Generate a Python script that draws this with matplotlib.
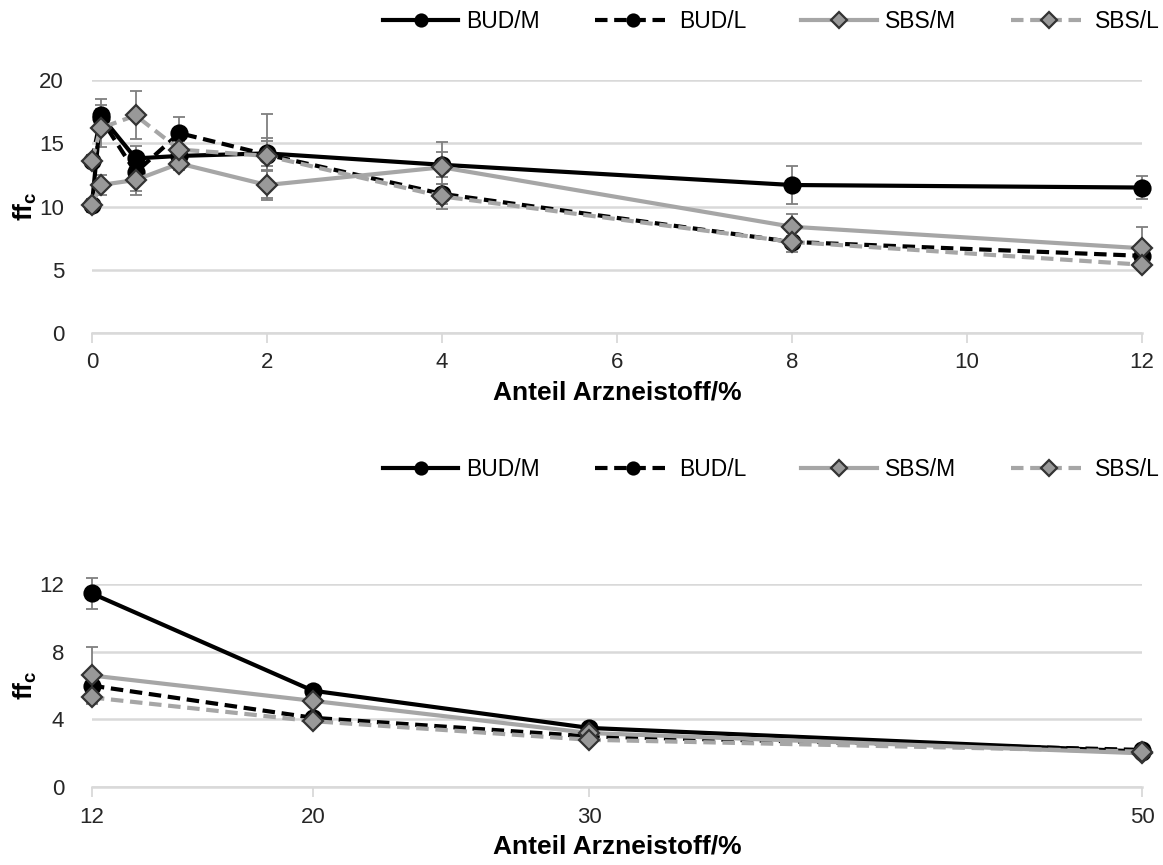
import matplotlib.pyplot as plt
import numpy as np

plt.rcParams['font.family'] = ['Liberation Sans', 'DejaVu Sans']
plt.rcParams['mathtext.fontset'] = 'custom'
plt.rcParams['mathtext.bf'] = 'Liberation Sans:bold'
plt.rcParams['mathtext.rm'] = 'Liberation Sans'

# --- Daten: oberes Diagramm (0-12 %) ---
x_top = [0, 0.1, 0.5, 1, 2, 4, 8, 12]
bud_m_top = [10.1, 17.2, 13.8, 14.0, 14.2, 13.3, 11.7, 11.5]
bud_l_top = [13.6, 17.0, 12.7, 15.8, 14.1, 11.0, 7.2, 6.1]
sbs_m_top = [10.1, 11.7, 12.1, 13.4, 11.7, 13.1, 8.4, 6.7]
sbs_l_top = [13.6, 16.2, 17.2, 14.5, 14.0, 10.8, 7.2, 5.4]
bud_m_top_err = [0.3, 1.3, 1.0, 0.5, 1.0, 1.0, 1.5, 0.9]
bud_l_top_err = [0.5, 1.0, 1.5, 1.3, 1.3, 0.8, 0.5, 0.3]
sbs_m_top_err = [0.5, 0.8, 1.2, 0.5, 1.2, 2.0, 1.0, 1.7]
sbs_l_top_err = [0.5, 1.5, 1.9, 0.7, 3.3, 1.0, 0.8, 0.3]

# --- Daten: unteres Diagramm (12-50 %) ---
x_bot = [12, 20, 30, 50]
bud_m_bot = [11.45, 5.7, 3.5, 2.1]
bud_l_bot = [6.0, 4.1, 3.0, 2.2]
sbs_m_bot = [6.6, 5.1, 3.2, 2.0]
sbs_l_bot = [5.3, 3.9, 2.8, 2.1]
bud_m_bot_err = [0.9, 0.2, 0.2, 0.1]
bud_l_bot_err = [0.3, 0.2, 0.2, 0.1]
sbs_m_bot_err = [1.7, 0.2, 0.2, 0.1]
sbs_l_bot_err = [0.3, 0.2, 0.2, 0.1]

labels = ['BUD/M', 'BUD/L', 'SBS/M', 'SBS/L']
grid_col = '#d9d9d9'
text_col = '#262626'

# Stil je Serie: Farbe, Linienstil, Marker
styles = [
    dict(color='black', ls='-', marker='o', mfc='black', mec='black', ms=11.5),
    dict(color='black', ls=(0, (3, 1.6)), marker='o', mfc='black', mec='black', ms=11.5),
    dict(color='#a6a6a6', ls='-', marker='D', mfc='#999999', mec='#333333', ms=10.5),
    dict(color='#a6a6a6', ls=(0, (3, 1.6)), marker='D', mfc='#999999', mec='#333333', ms=10.5),
]

fig = plt.figure(figsize=(11.63, 8.65), dpi=100)
ax1 = fig.add_axes([0.079, 0.615, 0.903, 0.2925])
ax2 = fig.add_axes([0.079, 0.090, 0.903, 0.2347])


def draw(ax, x, series, errs):
    handles = []
    for y, e, st, lab in zip(series, errs, styles, labels):
        ax.errorbar(x, y, yerr=e, fmt='none', ecolor='#7f7f7f', elinewidth=1.3,
                    capsize=4.5, capthick=1.3, zorder=2, clip_on=False)
        h, = ax.plot(x, y, color=st['color'], ls=st['ls'], lw=3, marker=st['marker'],
                     mfc=st['mfc'], mec=st['mec'], mew=1.6, ms=st['ms'],
                     label=lab, zorder=3, clip_on=False)
        handles.append(h)
    for side in ['top', 'right', 'left']:
        ax.spines[side].set_visible(False)
    ax.spines['bottom'].set_color(grid_col)
    ax.spines['bottom'].set_linewidth(1.8)
    ax.grid(axis='y', color=grid_col, lw=1.8)
    ax.set_axisbelow(True)
    ax.tick_params(axis='y', length=0, pad=20, labelsize=16, labelcolor=text_col)
    ax.tick_params(axis='x', length=7, width=1.3, color=grid_col, pad=7,
                   labelsize=16, labelcolor=text_col)
    ax.set_xlabel('Anteil Arzneistoff/%', fontsize=19, fontweight='bold', labelpad=5)
    ax.set_ylabel(r'$\mathbf{ff_c}$', fontsize=19, labelpad=0)
    return handles


h1 = draw(ax1, x_top, [bud_m_top, bud_l_top, sbs_m_top, sbs_l_top],
          [bud_m_top_err, bud_l_top_err, sbs_m_top_err, sbs_l_top_err])
ax1.set_xlim(0, 12)
ax1.set_ylim(0, 20)
ax1.set_xticks(np.arange(0, 13, 2))
ax1.set_yticks([0, 5, 10, 15, 20])

h2 = draw(ax2, x_bot, [bud_m_bot, bud_l_bot, sbs_m_bot, sbs_l_bot],
          [bud_m_bot_err, bud_l_bot_err, sbs_m_bot_err, sbs_l_bot_err])
ax2.set_xlim(12, 50)
ax2.set_ylim(0, 12)
ax2.set_xticks(x_bot)
ax2.set_yticks([0, 4, 8, 12])

for h, y in [(h1, 0.975), (h2, 0.457)]:
    fig.legend(handles=h, labels=labels, loc='center', bbox_to_anchor=(0.663, y),
               ncol=4, frameon=False, fontsize=16.5, handlelength=3.3,
               handletextpad=0.35, columnspacing=2.4, markerscale=0.75)

plt.savefig('out.png', dpi=100)
